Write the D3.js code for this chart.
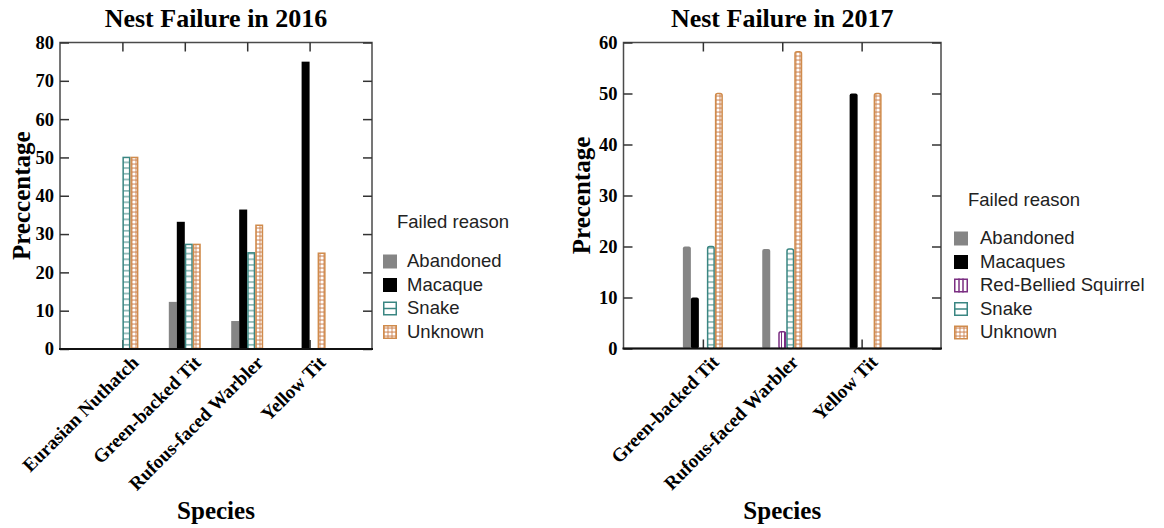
<!DOCTYPE html>
<html>
<head>
<meta charset="utf-8">
<script src="https://cdn.jsdelivr.net/npm/d3@7"></script>
<style>
  body { margin: 0; background: #fff; }
  svg { display: block; }
</style>
</head>
<body>
<svg id="chart" width="1164" height="528"></svg>
<script>
// ---- data ----
const species2016 = ["Eurasian Nuthatch", "Green-backed Tit", "Rufous-faced Warbler", "Yellow Tit"];
const reasons2016 = ["Abandoned", "Macaque", "Snake", "Unknown"];
const abandoned2016 = [0, 12.3, 7.3, 0];
const macaque2016 = [0, 33.2, 36.4, 75];
const snake2016 = [50, 27.3, 25.1, 0];
const unknown2016 = [50, 27.3, 32.3, 25];
const yTicks2016 = [0, 10, 20, 30, 40, 50, 60, 70, 80];

const species2017 = ["Green-backed Tit", "Rufous-faced Warbler", "Yellow Tit"];
const reasons2017 = ["Abandoned", "Macaques", "Red-Bellied Squirrel", "Snake", "Unknown"];
const abandoned2017 = [20, 19.5, 0];
const macaques2017 = [10, 0, 50];
const squirrel2017 = [0, 3.3, 0];
const snake2017 = [20, 19.5, 0];
const unknown2017 = [50, 58.2, 50];
const yTicks2017 = [0, 10, 20, 30, 40, 50, 60];

const serif = "'Liberation Serif', 'Times New Roman', serif";
const sans = "'Liberation Sans', Arial, sans-serif";

// fills for each failure reason
const styles = {
  "Abandoned": {fill: "#858585", stroke: "none", swatch: "solid"},
  "Macaque": {fill: "#000", stroke: "none", swatch: "solid"},
  "Macaques": {fill: "#000", stroke: "none", swatch: "solid"},
  "Red-Bellied Squirrel": {fill: "url(#squirrelLines)", stroke: "#7b2f82", swatch: "vlines"},
  "Snake": {fill: "url(#snakeLines)", stroke: "#3a8682", swatch: "hline"},
  "Unknown": {fill: "url(#unknownDots)", stroke: "#d08b4c", swatch: "dots"}
};

const svg = d3.select('#chart');
const defs = svg.append('defs');

const pSnake = defs.append('pattern').attr('id', 'snakeLines')
  .attr('patternUnits', 'userSpaceOnUse').attr('width', 6).attr('height', 5.7);
pSnake.append('rect').attr('width', 6).attr('height', 5.7).attr('fill', '#fff');
pSnake.append('line').attr('x1', 0).attr('x2', 6).attr('y1', 2.8).attr('y2', 2.8)
  .attr('stroke', '#3a8682').attr('stroke-width', 1);

const pUnk = defs.append('pattern').attr('id', 'unknownDots')
  .attr('patternUnits', 'userSpaceOnUse').attr('width', 4).attr('height', 4);
pUnk.append('rect').attr('width', 4).attr('height', 4).attr('fill', '#d9a07a');
pUnk.append('circle').attr('cx', 2).attr('cy', 2).attr('r', 1.6).attr('fill', '#fff');

const pSq = defs.append('pattern').attr('id', 'squirrelLines')
  .attr('patternUnits', 'userSpaceOnUse').attr('width', 3).attr('height', 4);
pSq.append('rect').attr('width', 3).attr('height', 4).attr('fill', '#fff');
pSq.append('line').attr('x1', 1.5).attr('x2', 1.5).attr('y1', 0).attr('y2', 4)
  .attr('stroke', '#7b2f82').attr('stroke-width', 1);

function drawPanel(cfg) {
  const g = svg.append('g');
  const x = d3.scalePoint().domain(cfg.species).range([cfg.left, cfg.right]).padding(1);
  const y = d3.scaleLinear().domain([0, cfg.yMax]).range([cfg.bottom, cfg.top]);
  const slot = d3.scaleBand().domain(cfg.reasons)
    .range([-cfg.reasons.length * 4, cfg.reasons.length * 4]);

  // frame
  g.append('rect')
    .attr('x', cfg.left).attr('y', cfg.top)
    .attr('width', cfg.right - cfg.left).attr('height', cfg.bottom - cfg.top)
    .attr('fill', 'none').attr('stroke', '#4a4a4a').attr('stroke-width', 1.5);

  // axes with inward ticks
  const yAxis = g.append('g').attr('transform', 'translate(' + cfg.left + ',0)')
    .call(d3.axisLeft(y).tickValues(cfg.ticks).tickSizeInner(-9).tickSizeOuter(0).tickPadding(6));
  yAxis.selectAll('text')
    .attr('font-family', serif).attr('font-weight', 'bold').attr('font-size', 18.5).attr('fill', '#000');
  g.append('g').attr('transform', 'translate(' + cfg.right + ',0)')
    .call(d3.axisRight(y).tickValues(cfg.ticks).tickSizeInner(-9).tickSizeOuter(0).tickFormat(''));
  g.append('g').attr('transform', 'translate(0,' + cfg.top + ')')
    .call(d3.axisTop(x).tickSizeInner(-9).tickSizeOuter(0).tickFormat(''));
  const xAxis = g.append('g').attr('transform', 'translate(0,' + cfg.bottom + ')')
    .call(d3.axisBottom(x).tickSizeInner(-9).tickSizeOuter(0));
  xAxis.selectAll('text')
    .attr('font-family', serif).attr('font-weight', 'bold').attr('font-size', 19).attr('fill', '#000')
    .attr('text-anchor', 'end')
    .attr('transform', 'translate(12,10) rotate(-45)')
    .attr('dy', '0.35em').attr('y', 0);
  g.selectAll('.domain').remove();
  g.selectAll('.tick line').attr('stroke', '#333').attr('stroke-width', 1.5);

  // bars
  const cells = [];
  cfg.species.forEach((s, i) => {
    cfg.reasons.forEach((r, k) => {
      const v = cfg.values[k][i];
      if (v > 0) cells.push({species: s, reason: r, value: v});
    });
  });
  g.selectAll('rect.bar').data(cells).enter().append('rect')
    .attr('class', 'bar')
    .attr('x', d => x(d.species) + slot(d.reason) + (styles[d.reason].stroke === 'none' ? 0 : 0.75))
    .attr('width', d => slot.bandwidth() - (styles[d.reason].stroke === 'none' ? 0 : 1.5))
    .attr('y', d => y(d.value))
    .attr('height', d => y(0) - y(d.value))
    .attr('rx', cfg.round)
    .attr('fill', d => styles[d.reason].fill)
    .attr('stroke', d => styles[d.reason].stroke)
    .attr('stroke-width', 1.5);

  // heavier bottom line
  g.append('line')
    .attr('x1', cfg.left - 1).attr('x2', cfg.right + 1)
    .attr('y1', cfg.bottom).attr('y2', cfg.bottom)
    .attr('stroke', '#111').attr('stroke-width', 2.2);

  // titles
  g.append('text').text(cfg.title)
    .attr('x', (cfg.left + cfg.right) / 2).attr('y', 27)
    .attr('text-anchor', 'middle')
    .attr('font-family', serif).attr('font-weight', 'bold').attr('font-size', 26);
  g.append('text').text('Species')
    .attr('x', (cfg.left + cfg.right) / 2).attr('y', 519)
    .attr('text-anchor', 'middle')
    .attr('font-family', serif).attr('font-weight', 'bold').attr('font-size', 25);
  g.append('text').text(cfg.yLabel)
    .attr('transform', 'translate(' + cfg.yLabelX + ',' + (cfg.top + cfg.bottom) / 2 + ') rotate(-90)')
    .attr('text-anchor', 'middle')
    .attr('font-family', serif).attr('font-weight', 'bold').attr('font-size', 25);

  // legend
  const lg = g.append('g');
  lg.append('text').text('Failed reason')
    .attr('x', cfg.legendTitleX).attr('y', cfg.legendTitleY)
    .attr('font-family', sans).attr('font-size', 18.5).attr('fill', '#222');
  cfg.reasons.forEach((r, k) => {
    const by = cfg.legendY + k * 23.5;
    const st = styles[r];
    const sx = cfg.legendX;
    const sy = by - 12.5;
    if (st.swatch === 'solid') {
      lg.append('rect').attr('x', sx).attr('y', sy).attr('width', 14).attr('height', 14)
        .attr('fill', st.fill);
    } else if (st.swatch === 'dots') {
      lg.append('rect').attr('x', sx + 0.75).attr('y', sy + 0.75).attr('width', 12.5).attr('height', 12.5)
        .attr('fill', 'url(#unknownDots)').attr('stroke', st.stroke).attr('stroke-width', 1.5);
    } else {
      lg.append('rect').attr('x', sx + 0.75).attr('y', sy + 0.75).attr('width', 12.5).attr('height', 12.5)
        .attr('fill', '#fff').attr('stroke', st.stroke).attr('stroke-width', 1.5);
      if (st.swatch === 'hline') {
        lg.append('line').attr('x1', sx).attr('x2', sx + 14).attr('y1', sy + 7).attr('y2', sy + 7)
          .attr('stroke', st.stroke).attr('stroke-width', 1.5);
      } else {
        [sx + 5, sx + 9].forEach(lx => lg.append('line')
          .attr('x1', lx).attr('x2', lx).attr('y1', sy).attr('y2', sy + 14)
          .attr('stroke', st.stroke).attr('stroke-width', 1.5));
      }
    }
    lg.append('text').text(r)
      .attr('x', cfg.legendTextX).attr('y', by)
      .attr('font-family', sans).attr('font-size', 18.5).attr('fill', '#222');
  });
}

drawPanel({
  title: 'Nest Failure in 2016', yLabel: 'Preccentage', yLabelX: 30,
  species: species2016, reasons: reasons2016,
  values: [abandoned2016, macaque2016, snake2016, unknown2016],
  ticks: yTicks2016, yMax: 80,
  left: 60, right: 372, top: 42.5, bottom: 349, round: 0,
  legendTitleX: 397, legendTitleY: 228, legendX: 383, legendTextX: 407, legendY: 267
});

drawPanel({
  title: 'Nest Failure in 2017', yLabel: 'Precentage', yLabelX: 590,
  species: species2017, reasons: reasons2017,
  values: [abandoned2017, macaques2017, squirrel2017, snake2017, unknown2017],
  ticks: yTicks2017, yMax: 60,
  left: 623.5, right: 941, top: 42.5, bottom: 348.5, round: 2,
  legendTitleX: 968, legendTitleY: 206, legendX: 954, legendTextX: 980, legendY: 244
});
</script>
</body>
</html>
